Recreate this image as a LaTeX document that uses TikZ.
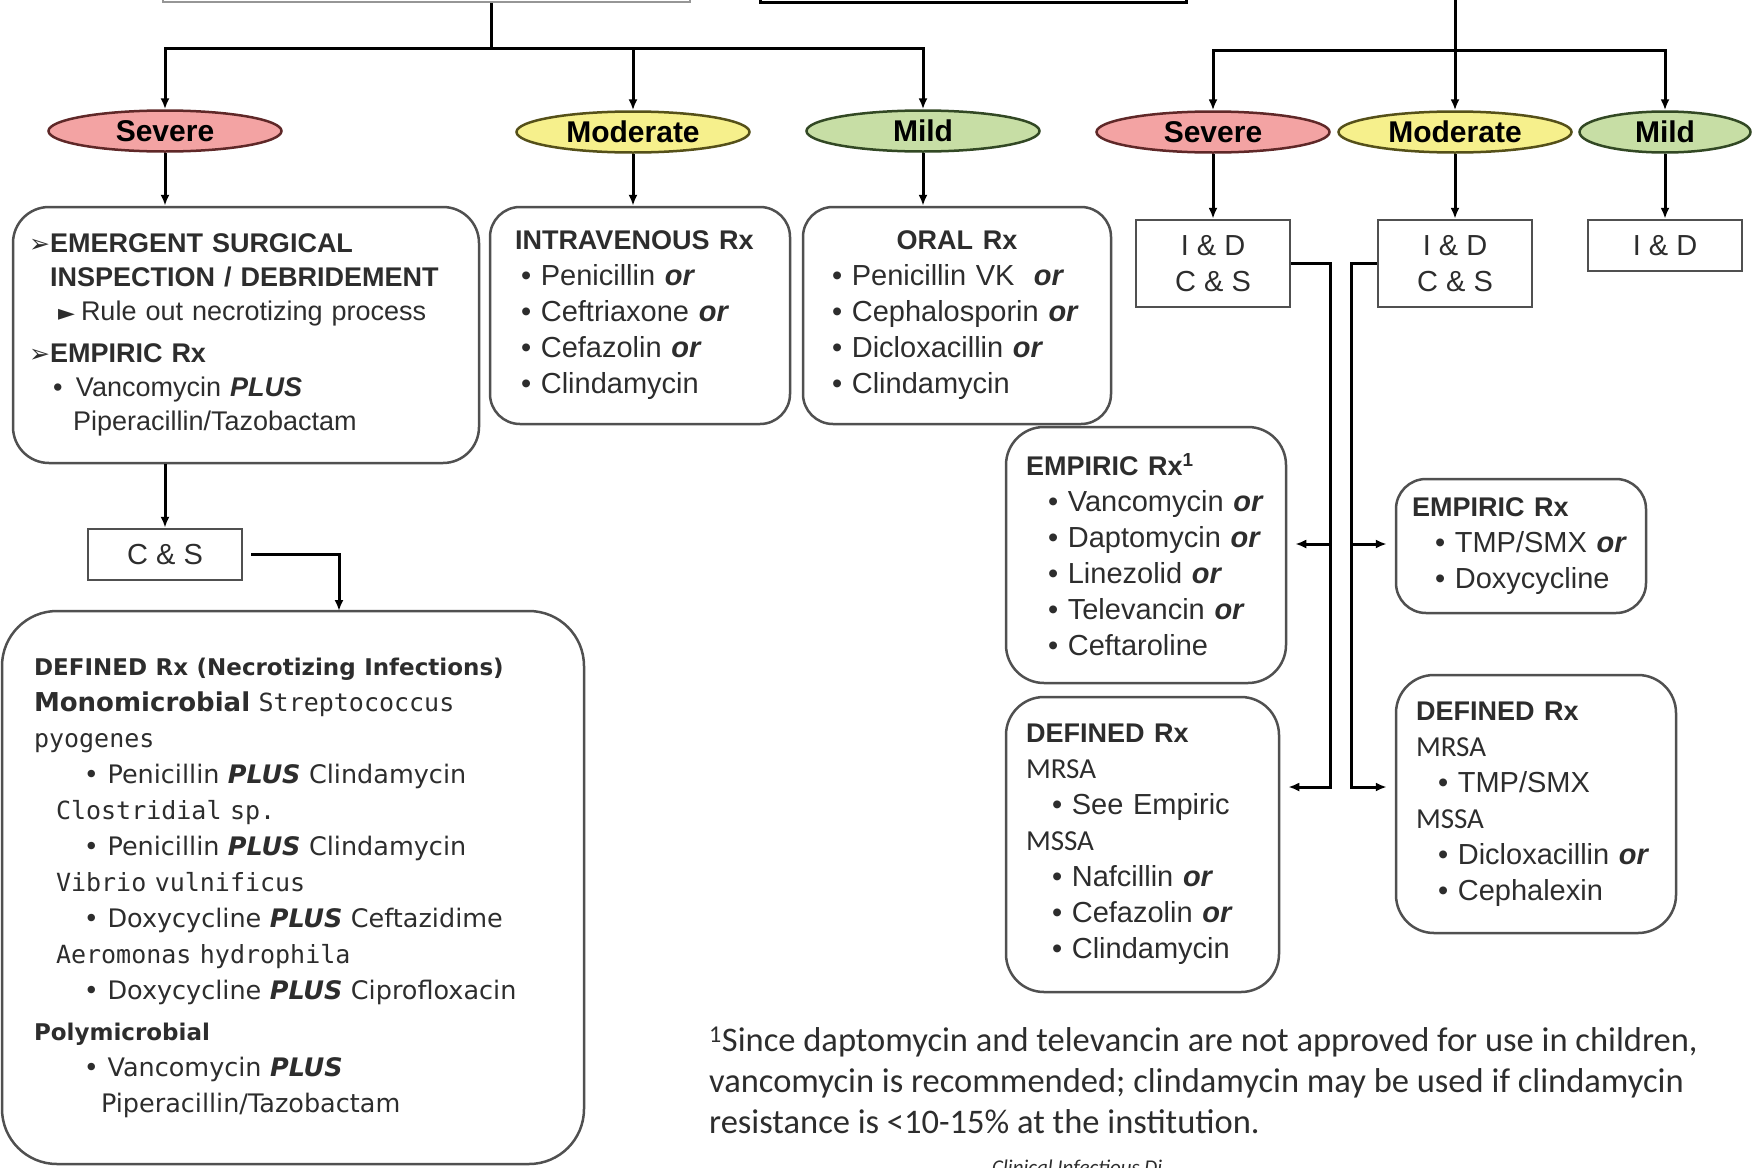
\documentclass[tikz,border=0pt]{standalone}
\usepackage{fontspec}
\setmainfont{Liberation Sans}
\newfontfamily\vsans{DejaVu Sans}
\newfontfamily\vmono{DejaVu Sans Mono}
\newfontfamily\symf{DejaVu Sans}
\newfontfamily\notef{Carlito}
\usepackage{tikz}
\usetikzlibrary{shapes.geometric, arrows.meta, positioning}

\definecolor{sevfill}{RGB}{243,163,163}
\definecolor{sevline}{RGB}{95,40,40}
\definecolor{modfill}{RGB}{246,240,140}
\definecolor{modline}{RGB}{85,80,25}
\definecolor{mildfill}{RGB}{199,222,165}
\definecolor{mildline}{RGB}{50,72,36}
\definecolor{boxgray}{RGB}{80,80,80}
\definecolor{txtgray}{RGB}{45,45,45}

\newcommand{\orw}{\textbf{\textit{or}}}
\newcommand{\plusw}{\textbf{\textit{PLUS}}}
\newcommand{\hdr}[1]{{\fontsize{27}{36}\selectfont\bfseries #1}}
\newcommand{\germ}[1]{{\notef\fontsize{29}{36}\selectfont #1}}
\newcommand{\spc}[1]{{\vmono\fontsize{25}{36}\selectfont #1}}

\begin{document}
\begin{tikzpicture}[x=1pt, y=-1pt,
		grade/.style 2 args={
			ellipse,
			draw=#1,
			fill=#2,
			line width=2.5pt,
			minimum width=233pt,
			minimum height=41pt,
			inner sep=0pt,
			font=\fontsize{30}{30}\selectfont\bfseries},
		rbox/.style={draw=boxgray, line width=2.5pt, rounded corners=30pt,
			align=left, inner sep=0pt, text=txtgray,
			font=\fontsize{29}{36}\selectfont},
		sbox/.style={draw=boxgray, line width=2.5pt, align=center, inner sep=0pt,
			minimum width=154pt, text=txtgray,
			font=\fontsize{29}{36}\selectfont},
		conn/.style={line width=3pt},
		arr/.style={line width=3pt, -{Latex[length=11pt,width=9pt]}}
		]
		\useasboundingbox (0,0) rectangle (1758,1167);
		\clip (0,0) rectangle (1758,1167);
		
		% boxes cut off at the top edge
		\node[draw=boxgray!60, line width=2pt, minimum width=527pt, minimum height=60pt] (topA) at (426.5,-28) {};
		\node[draw=black, line width=3pt, minimum width=426pt, minimum height=60pt] (topB) at (973,-28) {};
		
		% severity grades
		\node[grade={sevline}{sevfill}] (sevL) at (165,131) {Severe};
		\node[grade={modline}{modfill}] (modL) at (633,132) {Moderate};
		\node[grade={mildline}{mildfill}] (mildL) at (923,131) {Mild};
		\node[grade={sevline}{sevfill}] (sevR) at (1213,132) {Severe};
		\node[grade={modline}{modfill}] (modR) at (1455,132) {Moderate};
		\node[grade={mildline}{mildfill}, minimum width=171pt] (mildR) at (1665,132) {Mild};
		
		% left branch
		\node[rbox, rounded corners=36pt, minimum width=466pt, minimum height=256pt,
			text width=434pt, font=\fontsize{27}{34}\selectfont] (emerg) at (246,335) {%
			\makebox[21pt][l]{\symf\fontsize{25}{34}\selectfont ➢}\textbf{EMERGENT SURGICAL}\\
			\hspace*{21pt}\textbf{INSPECTION / DEBRIDEMENT}\\
			\hspace*{29pt}\makebox[23pt][l]{\symf\fontsize{22}{34}\selectfont ►}Rule out necrotizing process\\[8pt]
			\makebox[21pt][l]{\symf\fontsize{25}{34}\selectfont ➢}\textbf{EMPIRIC Rx}\\
			\hspace*{24pt}\makebox[23pt][l]{•}Vancomycin \plusw\\
			\hspace*{44pt}Piperacillin/Tazobactam};
		\node[sbox, minimum height=51pt] (csL) at (165,554.5) {C \& S};
		\node[rbox, rounded corners=55pt, minimum width=582pt, minimum height=553pt,
			text width=518pt, font=\vsans\fontsize{25.5}{36}\selectfont] (defN) at (293,887.5) {%
			{\bfseries\fontsize{23}{36}\selectfont DEFINED Rx (Necrotizing Infections)}\\
			{\bfseries\fontsize{26}{36}\selectfont Monomicrobial} \spc{Streptococcus}\\
			\spc{pyogenes}\\
			\hspace*{50pt}• Penicillin \plusw{} Clindamycin\\
			\hspace*{22pt}\spc{Clostridial sp.}\\
			\hspace*{50pt}• Penicillin \plusw{} Clindamycin\\
			\hspace*{22pt}\spc{Vibrio vulnificus}\\
			\hspace*{50pt}• Doxycycline \plusw{} Ceftazidime\\
			\hspace*{22pt}\spc{Aeromonas hydrophila}\\
			\hspace*{50pt}• Doxycycline \plusw{} Ciprofloxacin\\[5pt]
			{\bfseries\fontsize{23}{36}\selectfont Polymicrobial}\\
			\hspace*{50pt}• Vancomycin \plusw\\
			\hspace*{67pt}Piperacillin/Tazobactam};
		
		\node[rbox, minimum width=300pt, minimum height=217pt, text width=250pt] (ivbox) at (640,315.5) {%
			\hdr{INTRAVENOUS Rx}\\
			\hspace*{6pt}• Penicillin \orw\\
			\hspace*{6pt}• Ceftriaxone \orw\\
			\hspace*{6pt}• Cefazolin \orw\\
			\hspace*{6pt}• Clindamycin};
		\node[rbox, minimum width=308pt, minimum height=217pt, text width=250pt] (oralbox) at (957,315.5) {%
			\makebox[\linewidth][c]{\hdr{ORAL Rx}}\\
			• Penicillin VK \ \orw\\
			• Cephalosporin \orw\\
			• Dicloxacillin \orw\\
			• Clindamycin};
		
		% right branch
		\node[sbox, minimum height=87pt] (idR1) at (1213,263.5) {I \& D\\C \& S};
		\node[sbox, minimum height=87pt] (idR2) at (1455,263.5) {I \& D\\C \& S};
		\node[sbox, minimum height=51pt] (idR3) at (1665,245.5) {I \& D};
		
		\node[rbox, rounded corners=38pt, minimum width=280pt, minimum height=256pt, text width=240pt] (empL) at (1146,555) {%
			\hdr{EMPIRIC Rx\textsuperscript{1}}\\
			\hspace*{22pt}• Vancomycin \orw\\
			\hspace*{22pt}• Daptomycin \orw\\
			\hspace*{22pt}• Linezolid \orw\\
			\hspace*{22pt}• Televancin \orw\\
			\hspace*{22pt}• Ceftaroline};
		\node[rbox, rounded corners=38pt, minimum width=273pt, minimum height=295pt, text width=233pt] (defL) at (1142.5,844.5) {%
			\hdr{DEFINED Rx}\\
			\germ{MRSA}\\
			\hspace*{26pt}• See Empiric\\
			\germ{MSSA}\\
			\hspace*{26pt}• Nafcillin \orw\\
			\hspace*{26pt}• Cefazolin \orw\\
			\hspace*{26pt}• Clindamycin};
		\node[rbox, minimum width=250pt, minimum height=134pt, text width=218pt] (empR) at (1521,546) {%
			\hdr{EMPIRIC Rx}\\
			\hspace*{23pt}• TMP/SMX \orw\\
			\hspace*{23pt}• Doxycycline};
		\node[rbox, rounded corners=38pt, minimum width=280pt, minimum height=258pt, text width=240pt] (defR) at (1536,804) {%
			\hdr{DEFINED Rx}\\
			\germ{MRSA}\\
			\hspace*{22pt}• TMP/SMX\\
			\germ{MSSA}\\
			\hspace*{22pt}• Dicloxacillin \orw\\
			\hspace*{22pt}• Cephalexin};
		
		% footnote and cut source line
		\node[anchor=north west, inner sep=0pt, align=left, text=txtgray,
			font=\notef\fontsize{34.5}{41}\selectfont] (note) at (709,1027) {%
			\textsuperscript{1}Since daptomycin and televancin are not approved for use in children,\\
			vancomycin is recommended; clindamycin may be used if clindamycin\\
			resistance is <10-15\% at the institution.};
		\node[anchor=north west, inner sep=0pt, text=txtgray,
			font=\notef\fontsize{21}{24}\selectfont\itshape] (src) at (992,1160) {Clinical Infectious Di};
		
		% connectors, left tree
		\coordinate (forkL) at (491,48);
		\draw[conn] (topA.south -| forkL) -- (forkL);
		\draw[arr] (forkL) -| (sevL);
		\draw[arr] (forkL) -| (modL);
		\draw[arr] (forkL) -| (mildL);
		\draw[arr] (sevL) -- (sevL |- emerg.north);
		\draw[arr] (emerg.south -| csL) -- (csL);
		\coordinate (csdrop) at (339,611);
		\draw[arr, shorten <=8pt] (csL.east) -| (csdrop);
		\draw[arr] (modL) -- (modL |- ivbox.north);
		\draw[arr] (mildL) -- (mildL |- oralbox.north);
		
		% connectors, right tree
		\coordinate (topR) at (1455,0);
		\coordinate (forkR) at (1455,50);
		\draw[arr] (topR) -- (modR);
		\draw[arr] (forkR) -| (sevR);
		\draw[arr] (forkR) -| (mildR);
		\draw[arr] (sevR) -- (idR1);
		\draw[arr] (modR) -- (idR2);
		\draw[arr] (mildR) -- (idR3);
		
		\coordinate (jL1) at (1330,544);
		\coordinate (jL2) at (1330,787);
		\coordinate (jR1) at (1351,544);
		\coordinate (jR2) at (1351,787);
		\draw[arr, shorten >=8pt] (idR1.east) -| (jL2) -- (jL2 -| defL.east);
		\draw[arr, shorten >=8pt] (jL1) -- (jL1 -| empL.east);
		\draw[arr, shorten >=8pt] (idR2.west) -| (jR2) -- (jR2 -| defR.west);
		\draw[arr, shorten >=8pt] (jR1) -- (jR1 -| empR.west);
\end{tikzpicture}
\end{document}
